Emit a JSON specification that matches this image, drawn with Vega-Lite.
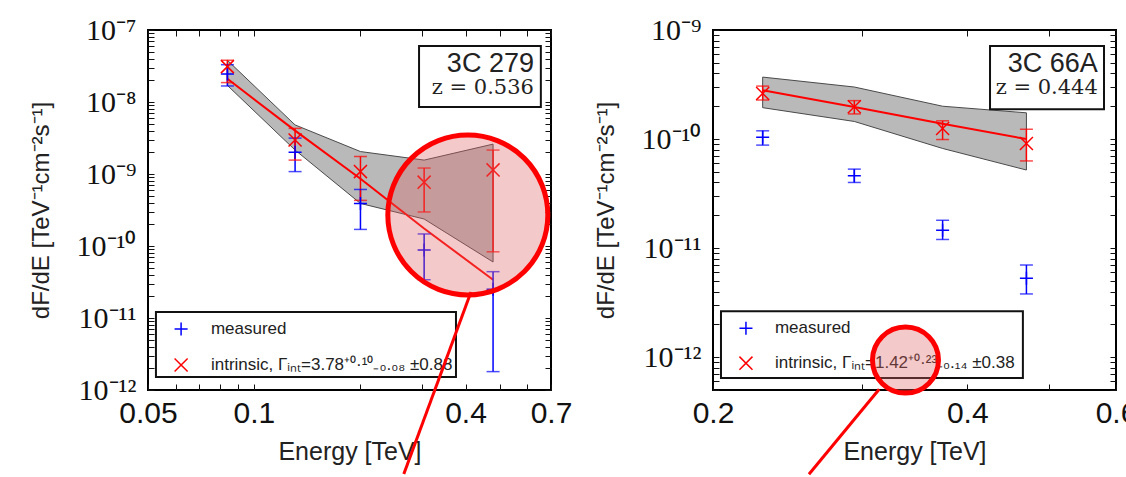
{
  "$schema": "https://vega.github.io/schema/vega-lite/v6.json",
  "background": "white",
  "padding": {"left": 28, "top": 14, "right": 0, "bottom": 0},
  "config": {
    "font": "Liberation Sans",
    "view": {"stroke": "black", "strokeWidth": 2},
    "axis": {"domain": false, "grid": false, "tickColor": "#111", "tickSize": -6, "tickWidth": 1, "labelColor": "#111", "titleColor": "#222", "titleFontWeight": "normal"}
  },
  "datasets": {
    "l_pts": [
      {"E": 0.0841, "series": "measured", "flux": 2.45e-8, "lo": 1.67e-8, "hi": 3.3e-8},
      {"E": 0.0841, "series": "intrinsic", "flux": 3.1e-8, "lo": 1.86e-8, "hi": 3.8e-8},
      {"E": 0.131, "series": "measured", "flux": 2.0e-9, "lo": 1.08e-9, "hi": 3.15e-9},
      {"E": 0.131, "series": "intrinsic", "flux": 2.96e-9, "lo": 1.56e-9, "hi": 4.3e-9},
      {"E": 0.201, "series": "measured", "flux": 3.9e-10, "lo": 1.7e-10, "hi": 6.1e-10},
      {"E": 0.201, "series": "intrinsic", "flux": 1.08e-9, "lo": 4.3e-10, "hi": 1.75e-9},
      {"E": 0.305, "series": "measured", "flux": 8.8e-11, "lo": 3.4e-11, "hi": 1.47e-10},
      {"E": 0.305, "series": "intrinsic", "flux": 7.7e-10, "lo": 2.97e-10, "hi": 1.21e-9},
      {"E": 0.479, "series": "measured", "flux": 2.5e-11, "lo": 1.8e-12, "hi": 4.4e-11},
      {"E": 0.479, "series": "intrinsic", "flux": 1.14e-9, "lo": 8.3e-11, "hi": 2.15e-9}
    ],
    "l_band": [
      {"E": 0.0841, "lo": 1.7e-8, "hi": 3.8e-8, "fit": 2.1e-8},
      {"E": 0.131, "lo": 2.15e-9, "hi": 4.8e-9, "fit": 4.0e-9},
      {"E": 0.201, "lo": 3.9e-10, "hi": 2.05e-9, "fit": 8.6e-10},
      {"E": 0.305, "lo": 2.37e-10, "hi": 1.56e-9, "fit": 1.75e-10},
      {"E": 0.479, "lo": 6.0e-11, "hi": 2.6e-9, "fit": 3.4e-11}
    ],
    "l_lab": [{"name": "3C 279", "z": "z = 0.536"}],
    "l_leg": [
      {"series": "measured", "label": "measured"},
      {"series": "intrinsic", "label": "intrinsic, Γᵢₙₜ=3.78⁺⁰·¹⁰₋₀.₀₈ ±0.88"}
    ],
    "r_pts": [
      {"E": 0.229, "series": "measured", "flux": 1.04e-10, "lo": 8.8e-11, "hi": 1.19e-10},
      {"E": 0.229, "series": "intrinsic", "flux": 2.62e-10, "lo": 2.28e-10, "hi": 3.06e-10},
      {"E": 0.294, "series": "measured", "flux": 4.6e-11, "lo": 4.0e-11, "hi": 5.3e-11},
      {"E": 0.294, "series": "intrinsic", "flux": 1.98e-10, "lo": 1.7e-10, "hi": 2.25e-10},
      {"E": 0.374, "series": "measured", "flux": 1.46e-11, "lo": 1.2e-11, "hi": 1.8e-11},
      {"E": 0.374, "series": "intrinsic", "flux": 1.25e-10, "lo": 9.9e-11, "hi": 1.47e-10},
      {"E": 0.470, "series": "measured", "flux": 5.3e-12, "lo": 3.8e-12, "hi": 7.0e-12},
      {"E": 0.470, "series": "intrinsic", "flux": 9.1e-11, "lo": 6.3e-11, "hi": 1.23e-10}
    ],
    "r_band": [
      {"E": 0.229, "lo": 1.94e-10, "hi": 3.7e-10, "fit": 2.8e-10},
      {"E": 0.294, "lo": 1.45e-10, "hi": 3.0e-10, "fit": 1.97e-10},
      {"E": 0.374, "lo": 8.2e-11, "hi": 2.0e-10, "fit": 1.38e-10},
      {"E": 0.470, "lo": 5.2e-11, "hi": 1.74e-10, "fit": 1.0e-10}
    ],
    "r_lab": [{"name": "3C 66A", "z": "z = 0.444"}],
    "r_leg": [
      {"series": "measured", "label": "measured"},
      {"series": "intrinsic", "label": "intrinsic, Γᵢₙₜ=1.42⁺⁰·²³₋₀.₁₄ ±0.38"}
    ]
  },
  "spacing": 20,
  "hconcat": [
    {
      "width": 403,
      "height": 360,
      "resolve": {"axis": {"x": "independent", "y": "independent"}},
      "layer": [
        {
          "data": {"name": "l_band"},
          "mark": {"type": "area", "fill": "#b9b9b9", "stroke": "#4a4a4a", "strokeWidth": 1},
          "encoding": {
            "x": {"field": "E", "type": "quantitative", "scale": {"type": "log", "domain": [0.05, 0.7], "nice": false},
              "axis": {"orient": "bottom", "values": [0.05, 0.06, 0.07, 0.08, 0.09, 0.1, 0.2, 0.3, 0.4, 0.5, 0.6, 0.7],
                "labelExpr": "datum.value==0.05?'0.05':datum.value==0.1?'0.1':datum.value==0.4?'0.4':datum.value==0.7?'0.7':''",
                "labelFont": "Liberation Sans", "labelFontSize": 30, "labelPadding": 14, "labelBaseline": "top", "labelFlush": false,
                "title": "Energy [TeV]", "titleFont": "Liberation Sans", "titleFontSize": 25, "titleY": 69, "titleBaseline": "alphabetic"}},
            "y": {"field": "lo", "type": "quantitative", "scale": {"type": "log", "domain": [1e-12, 1e-7], "nice": false},
              "axis": {"orient": "left", "values": [1e-12, 2e-12, 3e-12, 4e-12, 5e-12, 6e-12, 7e-12, 8e-12, 9e-12, 1e-11, 2e-11, 3e-11, 4e-11, 5e-11, 6e-11, 7e-11, 8e-11, 9e-11, 1e-10, 2e-10, 3e-10, 4e-10, 5e-10, 6e-10, 7e-10, 8e-10, 9e-10, 1e-9, 2e-9, 3e-9, 4e-9, 5e-9, 6e-9, 7e-9, 8e-9, 9e-9, 1e-8, 2e-8, 3e-8, 4e-8, 5e-8, 6e-8, 7e-8, 8e-8, 9e-8, 1e-7],
                "labelExpr": "datum.value==1e-7?'10⁻⁷':datum.value==1e-8?'10⁻⁸':datum.value==1e-9?'10⁻⁹':datum.value==1e-10?'10⁻¹⁰':datum.value==1e-11?'10⁻¹¹':datum.value==1e-12?'10⁻¹²':''",
                "labelFont": "Liberation Serif", "labelFontSize": 30, "labelPadding": 18, "labelFlush": false,
                "title": "dF/dE [TeV⁻¹cm⁻²s⁻¹]", "titleFont": "Liberation Sans", "titleFontSize": 24, "titleX": -107, "titleY": 180, "titleAngle": -90, "titleAlign": "center", "titleBaseline": "middle"}},
            "y2": {"field": "hi"}
          }
        },
        {
          "data": {"name": "l_band"},
          "mark": {"type": "line", "color": "#ff0000", "strokeWidth": 2},
          "encoding": {
            "x": {"field": "E", "type": "quantitative", "scale": {"type": "log"},
              "axis": {"orient": "top", "values": [0.05, 0.06, 0.07, 0.08, 0.09, 0.1, 0.2, 0.3, 0.4, 0.5, 0.6, 0.7], "labels": false, "title": null}},
            "y": {"field": "fit", "type": "quantitative", "scale": {"type": "log"},
              "axis": {"orient": "right", "values": [1e-12, 2e-12, 3e-12, 4e-12, 5e-12, 6e-12, 7e-12, 8e-12, 9e-12, 1e-11, 2e-11, 3e-11, 4e-11, 5e-11, 6e-11, 7e-11, 8e-11, 9e-11, 1e-10, 2e-10, 3e-10, 4e-10, 5e-10, 6e-10, 7e-10, 8e-10, 9e-10, 1e-9, 2e-9, 3e-9, 4e-9, 5e-9, 6e-9, 7e-9, 8e-9, 9e-9, 1e-8, 2e-8, 3e-8, 4e-8, 5e-8, 6e-8, 7e-8, 8e-8, 9e-8, 1e-7], "labels": false, "title": null}}
          }
        },
        {
          "data": {"name": "l_pts"},
          "mark": {"type": "rule", "strokeWidth": 1.5},
          "encoding": {
            "x": {"field": "E", "type": "quantitative", "scale": {"type": "log"}, "axis": null},
            "y": {"field": "lo", "type": "quantitative", "scale": {"type": "log"}, "axis": null},
            "y2": {"field": "hi"},
            "color": {"condition": {"test": "datum.series=='measured'", "value": "#0000ff"}, "value": "#ff0000"}
          }
        },
        {
          "data": {"name": "l_pts"},
          "mark": {"type": "tick", "orient": "horizontal", "size": 13, "thickness": 1.5},
          "encoding": {
            "x": {"field": "E", "type": "quantitative", "scale": {"type": "log"}, "axis": null},
            "y": {"field": "lo", "type": "quantitative", "scale": {"type": "log"}, "axis": null},
            "color": {"condition": {"test": "datum.series=='measured'", "value": "#0000ff"}, "value": "#ff0000"}
          }
        },
        {
          "data": {"name": "l_pts"},
          "mark": {"type": "tick", "orient": "horizontal", "size": 13, "thickness": 1.5},
          "encoding": {
            "x": {"field": "E", "type": "quantitative", "scale": {"type": "log"}, "axis": null},
            "y": {"field": "hi", "type": "quantitative", "scale": {"type": "log"}, "axis": null},
            "color": {"condition": {"test": "datum.series=='measured'", "value": "#0000ff"}, "value": "#ff0000"}
          }
        },
        {
          "data": {"name": "l_pts"},
          "mark": {"type": "point", "filled": false, "strokeWidth": 1.5, "opacity": 1, "size": 170},
          "encoding": {
            "x": {"field": "E", "type": "quantitative", "scale": {"type": "log"}, "axis": null},
            "y": {"field": "flux", "type": "quantitative", "scale": {"type": "log"}, "axis": null},
            "color": {"field": "series", "type": "nominal", "scale": {"domain": ["measured", "intrinsic"], "range": ["#0000ff", "#ff0000"]}, "legend": null},
            "shape": {"field": "series", "type": "nominal", "scale": {"domain": ["measured", "intrinsic"], "range": ["M-1,0L1,0M0,-1L0,1", "M-1,-1L1,1M-1,1L1,-1"]}, "legend": null}
          }
        },
        {
          "data": {"name": "l_lab"},
          "mark": {"type": "rect", "fill": "white", "stroke": "#111", "strokeWidth": 2},
          "encoding": {
            "x": {"datum": 0.295, "type": "quantitative", "scale": {"type": "log"}, "axis": null},
            "x2": {"datum": 0.655},
            "y": {"datum": 6.0e-8, "type": "quantitative", "scale": {"type": "log"}, "axis": null},
            "y2": {"datum": 8.5e-9}
          }
        },
        {
          "data": {"name": "l_lab"},
          "mark": {"type": "text", "align": "right", "baseline": "alphabetic", "font": "Liberation Sans", "fontSize": 27, "color": "#222"},
          "encoding": {
            "x": {"datum": 0.626, "type": "quantitative", "scale": {"type": "log"}, "axis": null},
            "y": {"datum": 2.61e-8, "type": "quantitative", "scale": {"type": "log"}, "axis": null},
            "text": {"field": "name"}
          }
        },
        {
          "data": {"name": "l_lab"},
          "mark": {"type": "text", "align": "right", "baseline": "alphabetic", "font": "DejaVu Serif", "fontSize": 21, "color": "#222"},
          "encoding": {
            "x": {"datum": 0.626, "type": "quantitative", "scale": {"type": "log"}, "axis": null},
            "y": {"datum": 1.29e-8, "type": "quantitative", "scale": {"type": "log"}, "axis": null},
            "text": {"field": "z"}
          }
        },
        {
          "data": {"name": "l_lab"},
          "mark": {"type": "rect", "fill": "white", "stroke": "#111", "strokeWidth": 2},
          "encoding": {
            "x": {"datum": 0.05267, "type": "quantitative", "scale": {"type": "log"}, "axis": null},
            "x2": {"datum": 0.3757},
            "y": {"datum": 1.21e-11, "type": "quantitative", "scale": {"type": "log"}, "axis": null},
            "y2": {"datum": 1.52e-12}
          }
        },
        {
          "data": {"name": "l_leg"},
          "transform": [{"filter": "datum.series=='measured'"}],
          "layer": [
            {
              "mark": {"type": "point", "filled": false, "strokeWidth": 1.5, "opacity": 1, "size": 170, "shape": "M-1,0L1,0M0,-1L0,1", "color": "#0000ff"},
              "encoding": {
                "x": {"datum": 0.0621, "type": "quantitative", "scale": {"type": "log"}, "axis": null},
                "y": {"datum": 7.03e-12, "type": "quantitative", "scale": {"type": "log"}, "axis": null}
              }
            },
            {
              "mark": {"type": "text", "align": "left", "baseline": "middle", "font": "Liberation Sans", "fontSize": 17, "color": "#222"},
              "encoding": {
                "x": {"datum": 0.0755, "type": "quantitative", "scale": {"type": "log"}, "axis": null},
                "y": {"datum": 7.03e-12, "type": "quantitative", "scale": {"type": "log"}, "axis": null},
                "text": {"field": "label"}
              }
            }
          ]
        },
        {
          "data": {"name": "l_leg"},
          "transform": [{"filter": "datum.series=='intrinsic'"}],
          "layer": [
            {
              "mark": {"type": "point", "filled": false, "strokeWidth": 1.5, "opacity": 1, "size": 170, "shape": "M-1,-1L1,1M-1,1L1,-1", "color": "#ff0000"},
              "encoding": {
                "x": {"datum": 0.0621, "type": "quantitative", "scale": {"type": "log"}, "axis": null},
                "y": {"datum": 2.22e-12, "type": "quantitative", "scale": {"type": "log"}, "axis": null}
              }
            },
            {
              "mark": {"type": "text", "align": "left", "baseline": "middle", "font": "Liberation Sans", "fontSize": 17, "color": "#222"},
              "encoding": {
                "x": {"datum": 0.0755, "type": "quantitative", "scale": {"type": "log"}, "axis": null},
                "y": {"datum": 2.22e-12, "type": "quantitative", "scale": {"type": "log"}, "axis": null},
                "text": {"field": "label"}
              }
            }
          ]
        },
        {
          "data": {"name": "l_lab"},
          "mark": {"type": "rule", "color": "#ff0000", "strokeWidth": 3},
          "encoding": {
            "x": {"datum": 0.4145, "type": "quantitative", "scale": {"type": "log"}, "axis": null},
            "x2": {"datum": 0.267},
            "y": {"datum": 2.3e-11, "type": "quantitative", "scale": {"type": "log"}, "axis": null},
            "y2": {"datum": 6.8e-14}
          }
        },
        {
          "data": {"name": "l_lab"},
          "mark": {"type": "point", "shape": "circle", "filled": true, "fill": "#e06060", "fillOpacity": 0.34, "stroke": "#ff0000", "strokeWidth": 5, "strokeOpacity": 1, "size": 25600},
          "encoding": {
            "x": {"datum": 0.406, "type": "quantitative", "scale": {"type": "log"}, "axis": null},
            "y": {"datum": 2.7e-10, "type": "quantitative", "scale": {"type": "log"}, "axis": null}
          }
        }
      ]
    },
    {
      "width": 403,
      "height": 360,
      "resolve": {"axis": {"x": "independent", "y": "independent"}},
      "layer": [
        {
          "data": {"name": "r_band"},
          "mark": {"type": "area", "fill": "#b9b9b9", "stroke": "#4a4a4a", "strokeWidth": 1},
          "encoding": {
            "x": {"field": "E", "type": "quantitative", "scale": {"type": "log", "domain": [0.2, 0.6], "nice": false},
              "axis": {"orient": "bottom", "values": [0.2, 0.3, 0.4, 0.5, 0.6],
                "labelExpr": "datum.value==0.2?'0.2':datum.value==0.4?'0.4':datum.value==0.6?'0.6':''",
                "labelFont": "Liberation Sans", "labelFontSize": 30, "labelPadding": 14, "labelBaseline": "top", "labelFlush": false,
                "title": "Energy [TeV]", "titleFont": "Liberation Sans", "titleFontSize": 25, "titleY": 69, "titleBaseline": "alphabetic"}},
            "y": {"field": "lo", "type": "quantitative", "scale": {"type": "log", "domain": [5e-13, 1e-9], "nice": false},
              "axis": {"orient": "left", "values": [5e-13, 6e-13, 7e-13, 8e-13, 9e-13, 1e-12, 2e-12, 3e-12, 4e-12, 5e-12, 6e-12, 7e-12, 8e-12, 9e-12, 1e-11, 2e-11, 3e-11, 4e-11, 5e-11, 6e-11, 7e-11, 8e-11, 9e-11, 1e-10, 2e-10, 3e-10, 4e-10, 5e-10, 6e-10, 7e-10, 8e-10, 9e-10, 1e-9],
                "labelExpr": "datum.value==1e-9?'10⁻⁹':datum.value==1e-10?'10⁻¹⁰':datum.value==1e-11?'10⁻¹¹':datum.value==1e-12?'10⁻¹²':''",
                "labelFont": "Liberation Serif", "labelFontSize": 30, "labelPadding": 18, "labelFlush": false,
                "title": "dF/dE [TeV⁻¹cm⁻²s⁻¹]", "titleFont": "Liberation Sans", "titleFontSize": 24, "titleX": -107, "titleY": 180, "titleAngle": -90, "titleAlign": "center", "titleBaseline": "middle"}},
            "y2": {"field": "hi"}
          }
        },
        {
          "data": {"name": "r_band"},
          "mark": {"type": "line", "color": "#ff0000", "strokeWidth": 2},
          "encoding": {
            "x": {"field": "E", "type": "quantitative", "scale": {"type": "log"},
              "axis": {"orient": "top", "values": [0.2, 0.3, 0.4, 0.5, 0.6], "labels": false, "title": null}},
            "y": {"field": "fit", "type": "quantitative", "scale": {"type": "log"},
              "axis": {"orient": "right", "values": [5e-13, 6e-13, 7e-13, 8e-13, 9e-13, 1e-12, 2e-12, 3e-12, 4e-12, 5e-12, 6e-12, 7e-12, 8e-12, 9e-12, 1e-11, 2e-11, 3e-11, 4e-11, 5e-11, 6e-11, 7e-11, 8e-11, 9e-11, 1e-10, 2e-10, 3e-10, 4e-10, 5e-10, 6e-10, 7e-10, 8e-10, 9e-10, 1e-9], "labels": false, "title": null}}
          }
        },
        {
          "data": {"name": "r_pts"},
          "mark": {"type": "rule", "strokeWidth": 1.5},
          "encoding": {
            "x": {"field": "E", "type": "quantitative", "scale": {"type": "log"}, "axis": null},
            "y": {"field": "lo", "type": "quantitative", "scale": {"type": "log"}, "axis": null},
            "y2": {"field": "hi"},
            "color": {"condition": {"test": "datum.series=='measured'", "value": "#0000ff"}, "value": "#ff0000"}
          }
        },
        {
          "data": {"name": "r_pts"},
          "mark": {"type": "tick", "orient": "horizontal", "size": 13, "thickness": 1.5},
          "encoding": {
            "x": {"field": "E", "type": "quantitative", "scale": {"type": "log"}, "axis": null},
            "y": {"field": "lo", "type": "quantitative", "scale": {"type": "log"}, "axis": null},
            "color": {"condition": {"test": "datum.series=='measured'", "value": "#0000ff"}, "value": "#ff0000"}
          }
        },
        {
          "data": {"name": "r_pts"},
          "mark": {"type": "tick", "orient": "horizontal", "size": 13, "thickness": 1.5},
          "encoding": {
            "x": {"field": "E", "type": "quantitative", "scale": {"type": "log"}, "axis": null},
            "y": {"field": "hi", "type": "quantitative", "scale": {"type": "log"}, "axis": null},
            "color": {"condition": {"test": "datum.series=='measured'", "value": "#0000ff"}, "value": "#ff0000"}
          }
        },
        {
          "data": {"name": "r_pts"},
          "mark": {"type": "point", "filled": false, "strokeWidth": 1.5, "opacity": 1, "size": 170},
          "encoding": {
            "x": {"field": "E", "type": "quantitative", "scale": {"type": "log"}, "axis": null},
            "y": {"field": "flux", "type": "quantitative", "scale": {"type": "log"}, "axis": null},
            "color": {"field": "series", "type": "nominal", "scale": {"domain": ["measured", "intrinsic"], "range": ["#0000ff", "#ff0000"]}, "legend": null},
            "shape": {"field": "series", "type": "nominal", "scale": {"domain": ["measured", "intrinsic"], "range": ["M-1,0L1,0M0,-1L0,1", "M-1,-1L1,1M-1,1L1,-1"]}, "legend": null}
          }
        },
        {
          "data": {"name": "r_lab"},
          "mark": {"type": "rect", "fill": "white", "stroke": "#111", "strokeWidth": 2},
          "encoding": {
            "x": {"datum": 0.4256, "type": "quantitative", "scale": {"type": "log"}, "axis": null},
            "x2": {"datum": 0.5807},
            "y": {"datum": 7.13e-10, "type": "quantitative", "scale": {"type": "log"}, "axis": null},
            "y2": {"datum": 1.88e-10}
          }
        },
        {
          "data": {"name": "r_lab"},
          "mark": {"type": "text", "align": "right", "baseline": "alphabetic", "font": "Liberation Sans", "fontSize": 27, "color": "#222"},
          "encoding": {
            "x": {"datum": 0.571, "type": "quantitative", "scale": {"type": "log"}, "axis": null},
            "y": {"datum": 4.14e-10, "type": "quantitative", "scale": {"type": "log"}, "axis": null},
            "text": {"field": "name"}
          }
        },
        {
          "data": {"name": "r_lab"},
          "mark": {"type": "text", "align": "right", "baseline": "alphabetic", "font": "DejaVu Serif", "fontSize": 21, "color": "#222"},
          "encoding": {
            "x": {"datum": 0.571, "type": "quantitative", "scale": {"type": "log"}, "axis": null},
            "y": {"datum": 2.61e-10, "type": "quantitative", "scale": {"type": "log"}, "axis": null},
            "text": {"field": "z"}
          }
        },
        {
          "data": {"name": "r_lab"},
          "mark": {"type": "rect", "fill": "white", "stroke": "#111", "strokeWidth": 2},
          "encoding": {
            "x": {"datum": 0.2044, "type": "quantitative", "scale": {"type": "log"}, "axis": null},
            "x2": {"datum": 0.4655},
            "y": {"datum": 2.63e-12, "type": "quantitative", "scale": {"type": "log"}, "axis": null},
            "y2": {"datum": 6.44e-13}
          }
        },
        {
          "data": {"name": "r_leg"},
          "transform": [{"filter": "datum.series=='measured'"}],
          "layer": [
            {
              "mark": {"type": "point", "filled": false, "strokeWidth": 1.5, "opacity": 1, "size": 170, "shape": "M-1,0L1,0M0,-1L0,1", "color": "#0000ff"},
              "encoding": {
                "x": {"datum": 0.2188, "type": "quantitative", "scale": {"type": "log"}, "axis": null},
                "y": {"datum": 1.84e-12, "type": "quantitative", "scale": {"type": "log"}, "axis": null}
              }
            },
            {
              "mark": {"type": "text", "align": "left", "baseline": "middle", "font": "Liberation Sans", "fontSize": 17, "color": "#222"},
              "encoding": {
                "x": {"datum": 0.2368, "type": "quantitative", "scale": {"type": "log"}, "axis": null},
                "y": {"datum": 1.84e-12, "type": "quantitative", "scale": {"type": "log"}, "axis": null},
                "text": {"field": "label"}
              }
            }
          ]
        },
        {
          "data": {"name": "r_leg"},
          "transform": [{"filter": "datum.series=='intrinsic'"}],
          "layer": [
            {
              "mark": {"type": "point", "filled": false, "strokeWidth": 1.5, "opacity": 1, "size": 170, "shape": "M-1,-1L1,1M-1,1L1,-1", "color": "#ff0000"},
              "encoding": {
                "x": {"datum": 0.2188, "type": "quantitative", "scale": {"type": "log"}, "axis": null},
                "y": {"datum": 8.81e-13, "type": "quantitative", "scale": {"type": "log"}, "axis": null}
              }
            },
            {
              "mark": {"type": "text", "align": "left", "baseline": "middle", "font": "Liberation Sans", "fontSize": 17, "color": "#222"},
              "encoding": {
                "x": {"datum": 0.2368, "type": "quantitative", "scale": {"type": "log"}, "axis": null},
                "y": {"datum": 8.81e-13, "type": "quantitative", "scale": {"type": "log"}, "axis": null},
                "text": {"field": "label"}
              }
            }
          ]
        },
        {
          "data": {"name": "r_lab"},
          "mark": {"type": "rule", "color": "#ff0000", "strokeWidth": 3},
          "encoding": {
            "x": {"datum": 0.3146, "type": "quantitative", "scale": {"type": "log"}, "axis": null},
            "x2": {"datum": 0.2598},
            "y": {"datum": 5.08e-13, "type": "quantitative", "scale": {"type": "log"}, "axis": null},
            "y2": {"datum": 8.45e-14}
          }
        },
        {
          "data": {"name": "r_lab"},
          "mark": {"type": "point", "shape": "circle", "filled": true, "fill": "#e06060", "fillOpacity": 0.34, "stroke": "#ff0000", "strokeWidth": 5, "strokeOpacity": 1, "size": 4356},
          "encoding": {
            "x": {"datum": 0.338, "type": "quantitative", "scale": {"type": "log"}, "axis": null},
            "y": {"datum": 9.4e-13, "type": "quantitative", "scale": {"type": "log"}, "axis": null}
          }
        }
      ]
    }
  ]
}
